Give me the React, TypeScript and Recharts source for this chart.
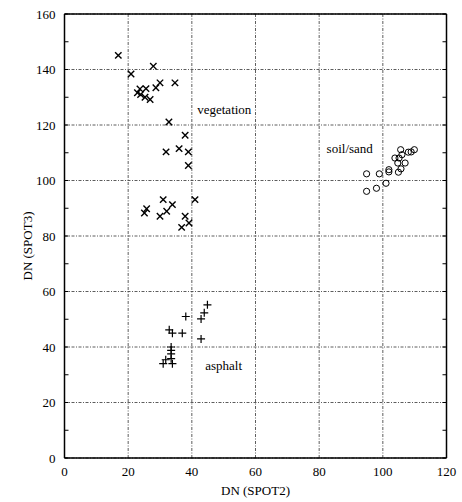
import React from 'react';
import {
  ScatterChart,
  Scatter,
  XAxis,
  YAxis,
  CartesianGrid,
  ReferenceDot,
  Label,
} from 'recharts';

// valores (DN SPOT2 / DN SPOT3)
const vegetacionX = [16.9, 27.9, 20.9, 23.7, 25.6, 22.9, 23.9, 25.3, 26.9, 28.7, 30, 34.7, 32.8, 37.9, 31.9, 36, 38.9, 38.9, 31, 33.9, 32.1, 30, 25.8, 25.1, 41, 37.9, 39.1, 36.8];
const vegetacionY = [145.1, 141.2, 138.4, 133, 133.1, 131.6, 131, 130, 129.2, 133.4, 135.2, 135.2, 121.1, 116.3, 110.3, 111.5, 110.3, 105.4, 93.1, 91.3, 88.9, 87.1, 89.8, 88.3, 93.1, 87.1, 84.7, 83.1];

const sueloX = [94.9, 98.9, 101.9, 101.9, 104.9, 105.7, 94.9, 98, 101, 103.8, 105.1, 105.6, 106, 104.7, 107, 108, 108.9, 109.9];
const sueloY = [102.4, 102.4, 103.9, 103.1, 103, 104.2, 96.1, 97.2, 99, 108.1, 108.1, 111.1, 109.3, 106.3, 106.3, 110.2, 110.3, 111.1];

const asfaltoX = [44.9, 43.9, 42.9, 38.1, 32.9, 33.9, 37, 42.9, 33.5, 33.5, 33.5, 33.5, 31.8, 31, 33.9];
const asfaltoY = [55.2, 52.3, 50.1, 51, 46.2, 45, 45, 42.9, 40, 38.8, 37.5, 35.8, 35.4, 34, 34];

const ticksX = [0, 20, 40, 60, 80, 100, 120];
const ticksY = [0, 20, 40, 60, 80, 100, 120, 140, 160];
const menoresX = [0, 5, 10, 15, 20, 25, 30, 35, 40, 45, 50, 55, 60, 65, 70, 75, 80, 85, 90, 95, 100, 105, 110, 115, 120];
const menoresY = [0, 5, 10, 15, 20, 25, 30, 35, 40, 45, 50, 55, 60, 65, 70, 75, 80, 85, 90, 95, 100, 105, 110, 115, 120, 125, 130, 135, 140, 145, 150, 155, 160];

const etiquetas = [
  { texto: 'vegetation', x: 50.2, y: 125.6 },
  { texto: 'soil/sand', x: 89.6, y: 111.5 },
  { texto: 'asphalt', x: 50, y: 33.4 },
];

const puntos = (xs: number[], ys: number[]) => xs.map((x, i) => ({ x, y: ys[i] }));

const fuente = '"Liberation Serif", "Times New Roman", serif';

const MarcaX = (p: any) => {
  const { cx, cy } = p;
  const s = 3.2;
  return (
    <g stroke="#000" strokeWidth={1.4}>
      <line x1={cx - s} y1={cy - s} x2={cx + s} y2={cy + s} />
      <line x1={cx - s} y1={cy + s} x2={cx + s} y2={cy - s} />
    </g>
  );
};

const MarcaMas = (p: any) => {
  const { cx, cy } = p;
  const s = 4;
  return (
    <g stroke="#000" strokeWidth={1.2}>
      <line x1={cx - s} y1={cy} x2={cx + s} y2={cy} />
      <line x1={cx} y1={cy - s} x2={cx} y2={cy + s} />
    </g>
  );
};

const MarcaCirculo = (p: any) => (
  <circle cx={p.cx} cy={p.cy} r={3.1} fill="none" stroke="#000" strokeWidth={1} />
);

const sinTexto = () => <g />;

export default function App() {
  const tickStyle = { fontSize: 13, fill: '#000', fontFamily: fuente };
  const marcoLinea = { stroke: '#000', strokeWidth: 1.5 };
  const tickCorto = { stroke: '#000', strokeWidth: 1 };

  return (
    <div style={{ position: 'absolute', left: 0, top: 0, width: 462, height: 502, background: '#fff' }}>
      <ScatterChart width={462} height={502} margin={{ top: 14, right: 15.5, bottom: 0, left: 0 }}>
        <CartesianGrid
          xAxisId="main"
          yAxisId="main"
          stroke="#333"
          strokeWidth={0.8}
          strokeDasharray="3 1.5 1 1.5"
        />
        <XAxis
          xAxisId="main"
          type="number"
          dataKey="x"
          domain={[0, 120]}
          allowDataOverflow
          ticks={ticksX}
          tickLine={false}
          tickSize={0}
          tickMargin={9}
          axisLine={marcoLinea}
          tick={tickStyle}
          height={44}
        >
          <Label
            content={() => (
              <text x={255.5} y={495} textAnchor="middle" fontSize={13} fontFamily={fuente} fill="#000">
                DN (SPOT2)
              </text>
            )}
          />
        </XAxis>
        <XAxis
          xAxisId="abajo"
          type="number"
          orientation="bottom"
          mirror
          domain={[0, 120]}
          allowDataOverflow
          ticks={menoresX}
          tickSize={4}
          tickLine={tickCorto}
          axisLine={false}
          tick={sinTexto}
        />
        <XAxis
          xAxisId="arriba"
          type="number"
          orientation="top"
          mirror
          domain={[0, 120]}
          allowDataOverflow
          ticks={menoresX}
          tickSize={4}
          tickLine={tickCorto}
          axisLine={marcoLinea}
          tick={sinTexto}
        />
        <YAxis
          yAxisId="main"
          type="number"
          dataKey="y"
          domain={[0, 160]}
          allowDataOverflow
          ticks={ticksY}
          tickLine={false}
          tickSize={0}
          tickMargin={9}
          axisLine={marcoLinea}
          tick={tickStyle}
          width={64.5}
        >
          <Label
            content={() => (
              <text
                transform="translate(31.5,246) rotate(-90)"
                textAnchor="middle"
                fontSize={13}
                fontFamily={fuente}
                fill="#000"
              >
                DN (SPOT3)
              </text>
            )}
          />
        </YAxis>
        <YAxis
          yAxisId="izq"
          type="number"
          orientation="left"
          mirror
          domain={[0, 160]}
          allowDataOverflow
          ticks={menoresY}
          tickSize={4}
          tickLine={tickCorto}
          axisLine={false}
          tick={sinTexto}
        />
        <YAxis
          yAxisId="der"
          type="number"
          orientation="right"
          mirror
          domain={[0, 160]}
          allowDataOverflow
          ticks={menoresY}
          tickSize={4}
          tickLine={tickCorto}
          axisLine={marcoLinea}
          tick={sinTexto}
        />
        <Scatter
          xAxisId="main"
          yAxisId="main"
          data={puntos(vegetacionX, vegetacionY)}
          shape={MarcaX}
          isAnimationActive={false}
        />
        <Scatter
          xAxisId="main"
          yAxisId="main"
          data={puntos(sueloX, sueloY)}
          shape={MarcaCirculo}
          isAnimationActive={false}
        />
        <Scatter
          xAxisId="main"
          yAxisId="main"
          data={puntos(asfaltoX, asfaltoY)}
          shape={MarcaMas}
          isAnimationActive={false}
        />
        {etiquetas.map((e) => (
          <ReferenceDot
            key={e.texto}
            xAxisId="main"
            yAxisId="main"
            x={e.x}
            y={e.y}
            r={0}
            fill="none"
            stroke="none"
            label={{ value: e.texto, position: 'center', fontSize: 13, fontFamily: fuente, fill: '#000' }}
          />
        ))}
      </ScatterChart>
    </div>
  );
}
